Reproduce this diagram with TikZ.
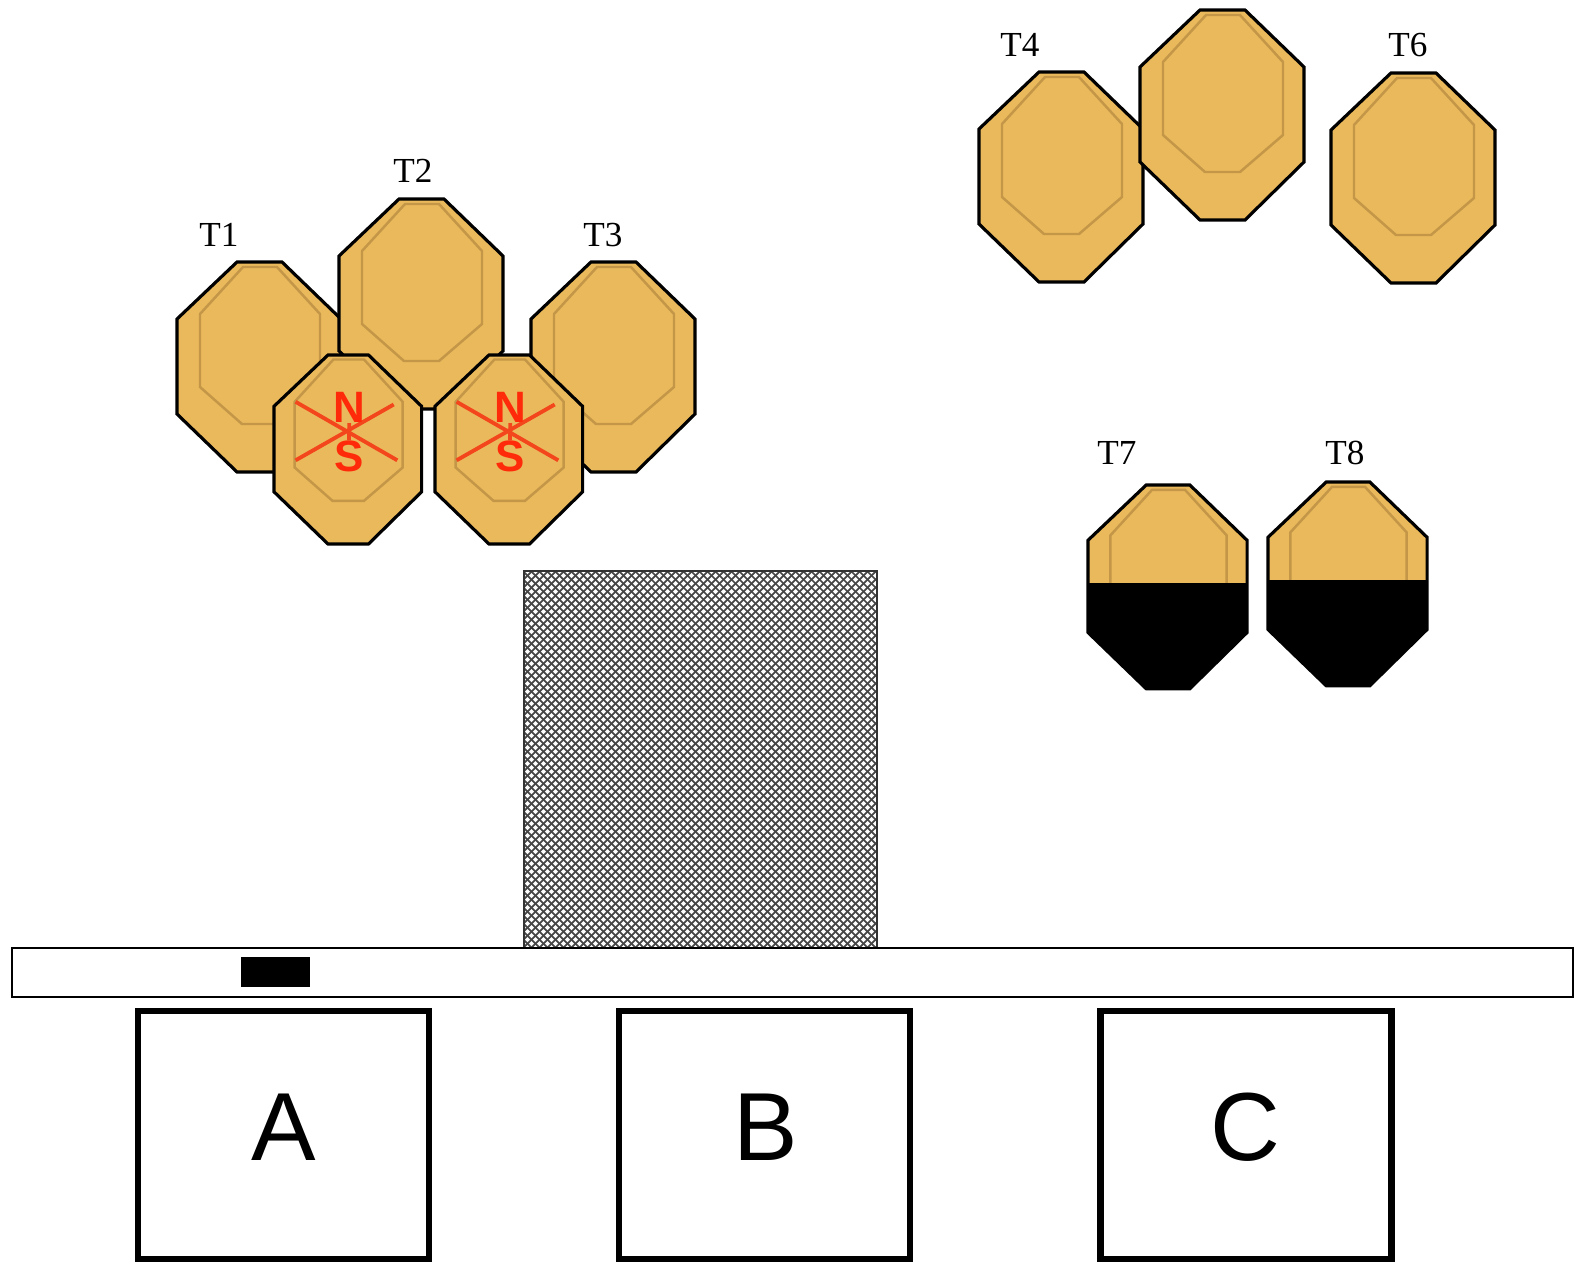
\documentclass[tikz,border=0pt]{standalone}
\usepackage{fontspec}
\setmainfont{Liberation Serif}
\newfontfamily\bayfont{Liberation Sans}

\definecolor{platefill}{HTML}{EAB95C}
\definecolor{ringline}{HTML}{C39648}
\definecolor{nsred}{HTML}{FF2A0A}
\definecolor{crossred}{HTML}{F4461C}

% one steel target, top-left corner at (#1,#2), scaled by #3, black from level #4 down
\newcommand{\drawtarget}[4]{%
  \begin{scope}[shift={(#1,#2)}, scale=#3]
    \fill[platefill] (60,0) -- (105,0) -- (164,57) -- (164,152) -- (105,210) -- (60,210) -- (0,152) -- (0,57) -- cycle;
    \draw[ring] (66,5) -- (100,5) -- (143,52) -- (143,125) -- (100,162) -- (65,162) -- (23,125) -- (23,52) -- cycle;
    \begin{scope}
      \clip (60,0) -- (105,0) -- (164,57) -- (164,152) -- (105,210) -- (60,210) -- (0,152) -- (0,57) -- cycle;
      \fill[black] (0,#4) rectangle (164,210);
    \end{scope}
    \draw[rim] (60,0) -- (105,0) -- (164,57) -- (164,152) -- (105,210) -- (60,210) -- (0,152) -- (0,57) -- cycle;
  \end{scope}}

% no-shoot target with the crossed N/S mark
\newcommand{\drawns}[3]{%
  \drawtarget{#1}{#2}{0.9}{210}
  \begin{scope}[shift={(#1,#2)}, scale=0.9]
    \draw[cross] (24,52) -- (137,117);
    \draw[cross] (24,117) -- (133,55);
    \node[pole] (#3n) at (84,58) {N};
    \node[pole] (#3s) at (83,113) {S};
    \draw[cross] (#3n) -- (#3s);
  \end{scope}}

\begin{document}
\begin{tikzpicture}[
  x=0.01cm, y=-0.01cm,
  rim/.style={draw=black, line width=0.9pt, line join=miter},
  ring/.style={draw=ringline, line width=0.7pt},
  cross/.style={draw=crossred, line width=1.1pt},
  pole/.style={text=nsred, inner sep=0pt, font=\bayfont\bfseries\fontsize{12.5}{13}\selectfont},
  tlabel/.style={inner sep=0pt, font=\fontsize{10}{12}\selectfont},
  hatch/.style={draw=black!72, line width=0.5pt},
  bay/.style={draw, line width=1.9pt, minimum width=2.91cm, minimum height=2.48cm},
  bayletter/.style={inner sep=0pt, font=\bayfont\fontsize{27.5}{30}\selectfont}
]
  \useasboundingbox (0,0) rectangle (1578,1263);

  % left array
  \drawtarget{177}{262}{1}{210}
  \drawtarget{531}{262}{1}{210}
  \drawtarget{339}{199}{1}{210}
  \drawns{274}{355}{nsa}
  \drawns{435}{355}{nsb}
  \node[tlabel] (t1) at (219,235) {T1};
  \node[tlabel] (t2) at (413,171) {T2};
  \node[tlabel] (t3) at (603,235) {T3};

  % right array
  \drawtarget{979}{72}{1}{210}
  \drawtarget{1140}{10}{1}{210}
  \drawtarget{1331}{73}{1}{210}
  \node[tlabel] (t4) at (1020,45) {T4};
  \node[tlabel] (t6) at (1408,45) {T6};

  \drawtarget{1088}{485}{0.97}{101}
  \drawtarget{1268}{482}{0.97}{101}
  \node[tlabel] (t7) at (1117,453) {T7};
  \node[tlabel] (t8) at (1345,453) {T8};

  % barricade
  \begin{scope}
    \clip (524,571) rectangle (877,948);
    \foreach \d in {0,8,...,744} {
      \draw[hatch] (147+\d,571) -- ++(400,400);
      \draw[hatch] (524+\d,571) -- ++(-400,400);
    }
  \end{scope}
  \draw[line width=0.5pt, draw=black!80] (524,571) rectangle (877,948);

  % fault line and start position
  \draw[line width=0.4pt] (12,948) rectangle (1573,997);
  \fill[black] (241,957) rectangle (310,987);

  % shooting bays
  \node[bay] (bayA) at (283.5,1135) {};
  \node[bay] (bayB) at (764.5,1135) {};
  \node[bay] (bayC) at (1246,1135) {};
  \node[bayletter] (letA) at (284,1127) {A};
  \node[bayletter] (letB) at (766,1127) {B};
  \node[bayletter] (letC) at (1245,1127) {C};
\end{tikzpicture}
\end{document}
